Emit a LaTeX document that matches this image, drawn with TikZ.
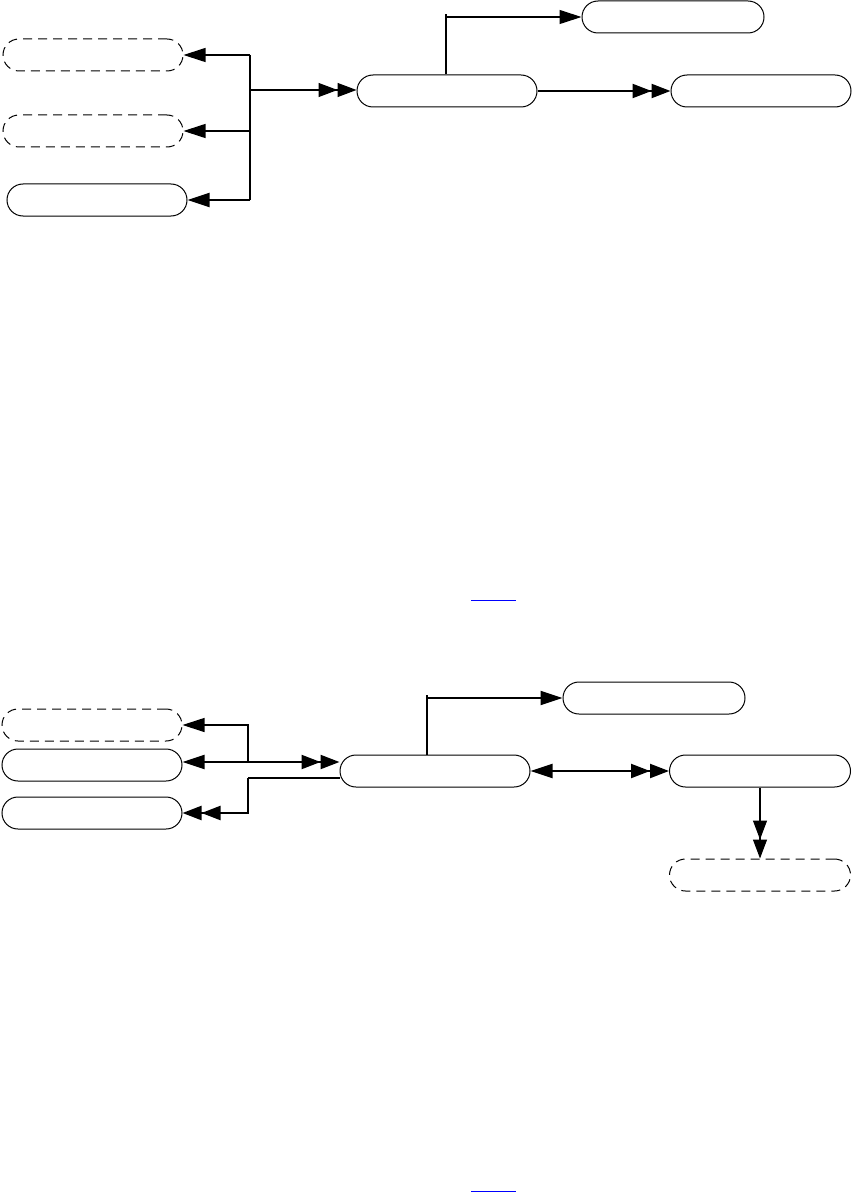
\documentclass[tikz,border=0pt]{standalone}
\usepackage{tikz}
\usetikzlibrary{arrows.meta,positioning,calc}

\begin{document}
\begin{tikzpicture}[x=1pt,y=-1pt,
  pill/.style={draw,rounded corners=16pt,minimum width=180pt,minimum height=32pt,line width=1pt,inner sep=0pt},
  ghost/.style={pill,dash pattern=on 9pt off 6pt},
  thinline/.style={line width=1.1pt},
  thickline/.style={line width=2.2pt},
  one/.style={-{Triangle[length=22pt,width=14pt]}},
  two/.style={-{Triangle[length=19pt,width=14pt] Triangle[length=19pt,width=14pt]}},
  bi/.style={{Triangle[length=22pt,width=14pt]}-{Triangle[length=19pt,width=14pt] Triangle[length=19pt,width=14pt]}}]
  \useasboundingbox (0,0) rectangle (853,1193);
  % upper diagram
  \node[ghost] (ga) at (93,55) {};
  \node[ghost] (gb) at (93,131) {};
  \node[pill] (sc) at (97,200) {};
  \node[pill] (main) at (447,91) {};
  \node[pill,minimum width=182pt] (up) at (673,17) {};
  \node[pill] (right) at (761,91) {};
  \coordinate (j) at (250,90);
  \coordinate (k) at (446,14);
  \draw[thickline] (j |- ga.east) -- (j |- sc.east);
  \draw[thinline,one] (j |- ga.east) -- (ga.east);
  \draw[thinline,one] (j |- gb.east) -- (gb.east);
  \draw[thickline,one] (j |- sc.east) -- (sc.east);
  \draw[thinline,two] (j) -- (j -| main.west);
  \draw[thickline] (k |- main.north) -- (k);
  \draw[thinline,one] (k |- up.west) -- (up.west);
  \draw[thickline,two] (main.east) -- (right.west);
  % lower diagram
  \node[ghost] (la) at (92,725) {};
  \node[pill] (lb) at (92,765) {};
  \node[pill] (lc) at (92,813) {};
  \node[pill,minimum width=190pt] (hub) at (435,771) {};
  \node[pill,minimum width=182pt] (top) at (654,698) {};
  \node[pill,minimum width=181pt] (out) at (760,771) {};
  \node[ghost,minimum width=181pt] (ld) at (760,875) {};
  \coordinate (j2) at (248,762);
  \coordinate (j3) at (248,778);
  \coordinate (k2) at (427,695);
  \draw[thinline,one] (j2) |- (la.east);
  \draw[thickline,bi] (j2 -| lb.east) -- (j2 -| hub.west);
  \draw[thinline] (j3 -| hub.west) -- (j3);
  \draw[thickline,two] (j3) |- (lc.east);
  \draw[thickline] (k2 |- hub.north) -- (k2);
  \draw[thickline,one] (k2 |- top.west) -- (top.west);
  \draw[thickline,bi] (hub.east) -- (out.west);
  \draw[thinline,two] (out.south) -- (ld.north);
  % link underlines
  \draw[blue,line width=1pt] (471,600) -- (516,600);
  \draw[blue,line width=1pt] (471,1191.5) -- (516,1191.5);
\end{tikzpicture}
\end{document}
